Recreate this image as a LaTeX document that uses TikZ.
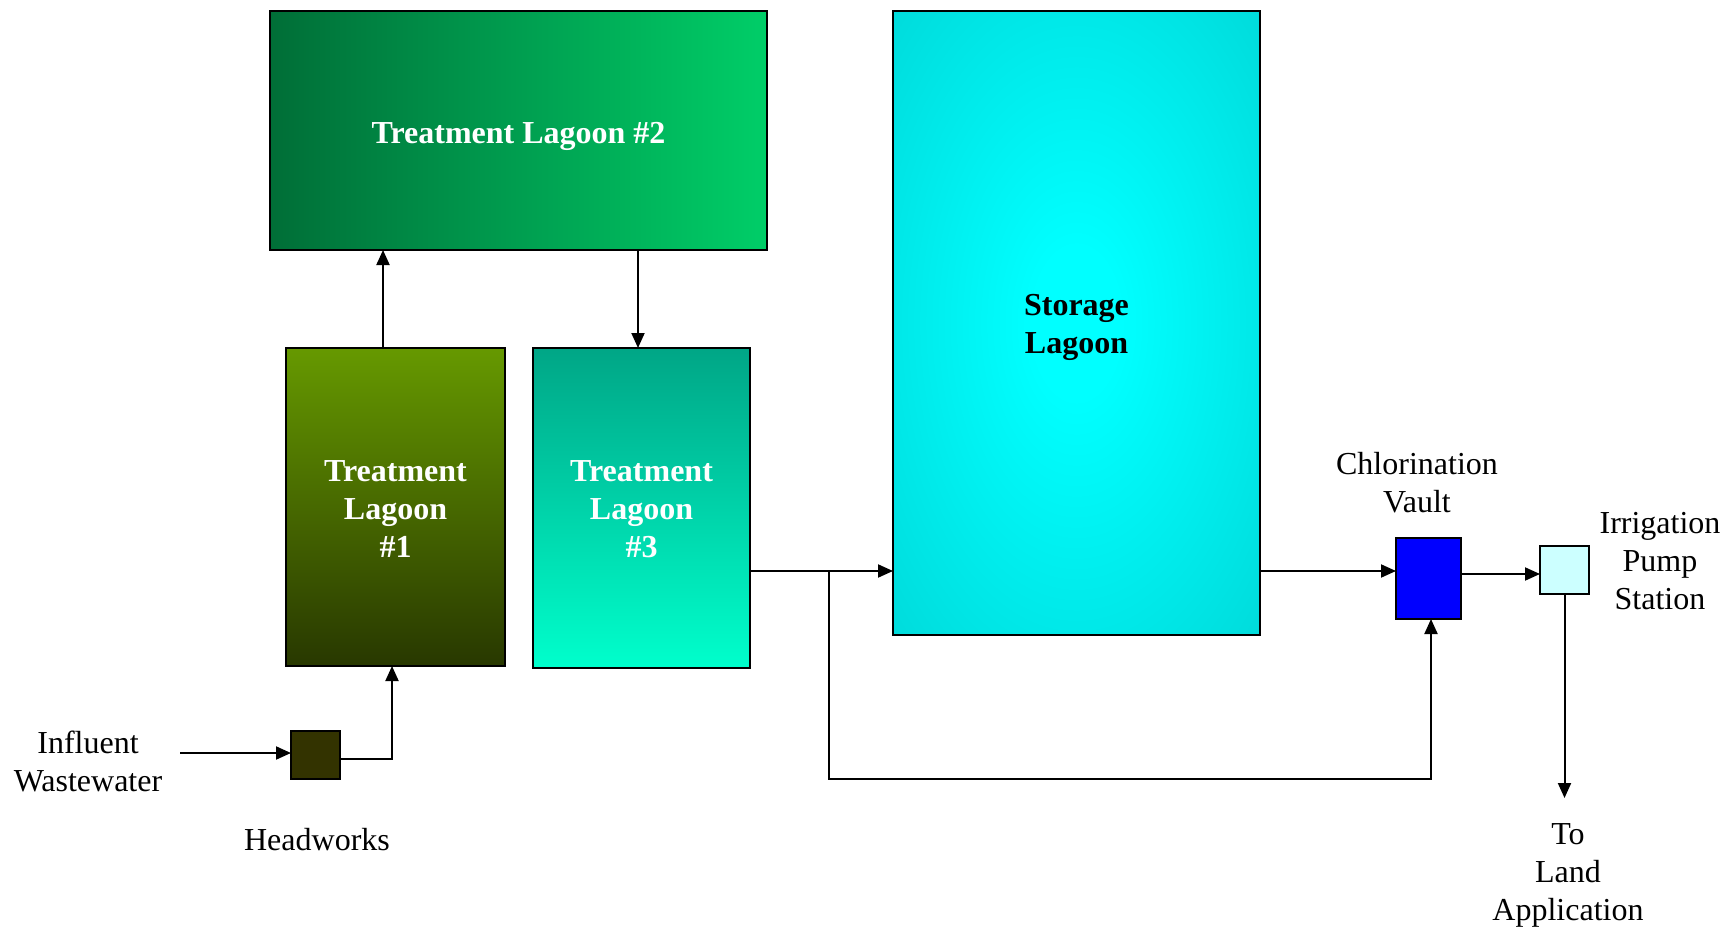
\documentclass[tikz,border=0pt]{standalone}
\usepackage{fontspec}
\setmainfont{Liberation Serif}
\usetikzlibrary{arrows.meta}
\definecolor{tlaL}{RGB}{0,110,55}
\definecolor{tlaR}{RGB}{0,206,104}
\definecolor{tlbT}{RGB}{102,153,0}
\definecolor{tlbB}{RGB}{40,56,0}
\definecolor{tlcT}{RGB}{0,166,134}
\definecolor{tlcB}{RGB}{0,255,204}
\definecolor{stc}{RGB}{0,255,255}
\definecolor{ste}{RGB}{0,214,214}
\definecolor{hwc}{RGB}{51,51,0}
\definecolor{chc}{RGB}{0,0,255}
\definecolor{irc}{RGB}{204,255,255}
\pgfdeclareradialshading{storshade}{\pgfpoint{0bp}{0bp}}{color(0bp)=(stc); color(6bp)=(stc); color(40bp)=(ste); color(50bp)=(ste)}
\begin{document}
\begin{tikzpicture}[x=1pt,y=-1pt,
  box/.style={draw=black,line width=2pt,rectangle,inner sep=0pt,outer sep=0pt},
  lbl/.style={font=\fontsize{32}{38}\selectfont, align=center},
  blbl/.style={font=\fontsize{32}{38}\selectfont\bfseries, align=center},
  flow/.style={line width=2pt, -{Triangle[length=15pt,width=13pt]}},
  pipe/.style={line width=2pt}]
\useasboundingbox (0,0) rectangle (1729,928);
% boxes
\node[box, minimum width=497pt, minimum height=239pt, left color=tlaL, right color=tlaR] (tl2) at (518.5,130.5) {};
\node[box, minimum width=219pt, minimum height=318pt, top color=tlbT, bottom color=tlbB] (tl1) at (395.5,507) {};
\node[box, minimum width=217pt, minimum height=320pt, top color=tlcT, bottom color=tlcB] (tl3) at (641.5,508) {};
\node[box, minimum width=367pt, minimum height=624pt, shading=storshade] (st) at (1076.5,323) {};
\node[box, fill=hwc, minimum width=49pt, minimum height=48pt] (hw) at (315.5,755) {};
\node[box, fill=chc, minimum width=65pt, minimum height=81pt] (ch) at (1428.5,578.5) {};
\node[box, fill=irc, minimum width=49pt, minimum height=48pt] (ir) at (1564.5,570) {};
% box texts
\node[blbl, text=white] (tl2t) at ([yshift=-5.5pt]tl2.center) {Treatment Lagoon \#2};
\node[blbl, text=white] (tl1t) at ([yshift=-2.5pt]tl1.center) {Treatment\\Lagoon\\\#1};
\node[blbl, text=white] (tl3t) at ([yshift=-1.5pt]tl3.center) {Treatment\\Lagoon\\\#3};
\node[blbl, text=black] (stt) at ([yshift=-4.5pt]st.center) {Storage\\Lagoon};
% labels
\node[lbl] (inflbl) at (88,761) {Influent\\Wastewater};
\node[lbl] (hwlbl) at (317,840) {Headworks};
\node[lbl] (chlbl) at (1417,482.5) {Chlorination\\Vault};
\node[lbl] (irlbl) at (1660,561) {Irrigation\\Pump\\Station};
\node[lbl] (landlbl) at (1568,875) {To\\Land\\Application};
% helper coordinates
\coordinate (inA) at (180,753);
\coordinate (j) at (829,571);
\coordinate (b) at (829,779);
\coordinate (k) at (1500,574);
\coordinate (land) at (1565,798);
% connectors
\draw[flow] (inA) -- (inA -| hw.west);
\draw[flow] ([yshift=-4pt]hw.east) -| ([xshift=-3.5pt]tl1.south);
\draw[flow] ([xshift=-12.5pt]tl1.north) -- ([xshift=-12.5pt]tl1.north |- tl2.south);
\draw[flow] ([xshift=119.5pt]tl2.south) -- ([xshift=119.5pt]tl2.south |- tl3.north);
\draw[flow] (tl3.east |- j) -- (j -| st.west);
\draw[flow] (j) -- (b) -| ([xshift=2.5pt]ch.south);
\draw[flow] (st.east |- j) -- (ch.west |- j);
\draw[flow] (ch.east |- k) -- (ir.west |- k);
\draw[flow] (ir.south) -- (ir.south |- land);
\end{tikzpicture}
\end{document}
